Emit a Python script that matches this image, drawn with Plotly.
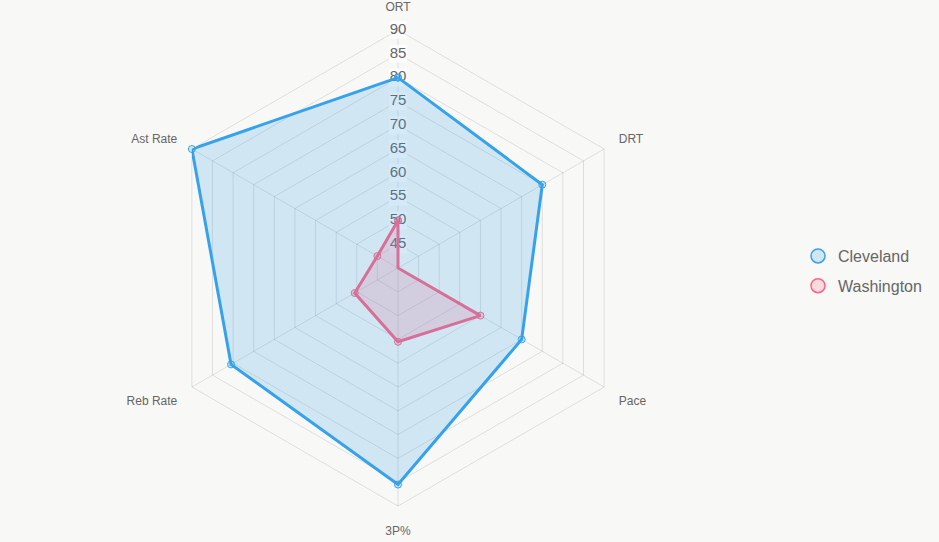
import plotly.graph_objects as go

categories = ["ORT", "DRT", "Pace", "3P%", "Reb Rate", "Ast Rate"]
cleveland = [80, 75, 70, 85.5, 80.5, 90]
washington = [50, 40, 60, 55.5, 50.5, 45]
tick_values = [45, 50, 55, 60, 65, 70, 75, 80, 85, 90]
tick_labels = [str(v) for v in tick_values]

BG = "#f8f8f6"
BLUE = "rgb(54,162,235)"
BLUE_F = "rgba(54,162,235,0.2)"
RED = "rgb(255,99,132)"
RED_F = "rgba(255,99,132,0.2)"
FONT = "Liberation Sans, Arial, sans-serif"

def closed(v):
    return v + v[:1]

fig = go.Figure()

# radial tick labels with backdrop, centred on the ORT spoke (under the data)
fig.add_trace(go.Scatterpolar(
    r=tick_values, theta=["ORT"] * len(tick_values), mode="markers+text",
    text=tick_labels, textposition="middle center",
    textfont=dict(family=FONT, size=15, color="#666666"),
    marker=dict(symbol="square", size=18, color="rgba(255,255,255,0.75)"),
    hoverinfo="skip", showlegend=False, cliponaxis=False))

# Washington drawn first (under Cleveland), as in the reference
fig.add_trace(go.Scatterpolar(
    r=closed(washington), theta=closed(categories), mode="lines+markers",
    fill="toself", fillcolor=RED_F,
    line=dict(color=RED, width=3),
    marker=dict(size=7, color=RED_F, line=dict(color=RED, width=1)),
    showlegend=False, name="Washington"))
fig.add_trace(go.Scatterpolar(
    r=closed(cleveland), theta=closed(categories), mode="lines+markers",
    fill="toself", fillcolor=BLUE_F,
    line=dict(color=BLUE, width=3),
    marker=dict(size=7, color=BLUE_F, line=dict(color=BLUE, width=1)),
    showlegend=False, name="Cleveland"))

# legend entries
for name, col, fc in [("Cleveland", BLUE, BLUE_F), ("Washington", RED, RED_F)]:
    fig.add_trace(go.Scatterpolar(
        r=[None], theta=[categories[0]], mode="markers", name=name, legendgroup=name,
        marker=dict(symbol="circle", size=14, color=fc, line=dict(color=col, width=1.5))))

cx, cy, R = 398, 268, 238
W, H = 939, 542
fig.update_layout(
    width=W, height=H, autosize=False,
    margin=dict(l=0, r=0, t=0, b=0),
    paper_bgcolor=BG, plot_bgcolor=BG,
    font=dict(family=FONT, color="#666666"),
    polar=dict(
        domain=dict(x=[(cx - R) / W, (cx + R) / W], y=[(H - cy - R) / H, (H - cy + R) / H]),
        bgcolor="rgba(0,0,0,0)",
        gridshape="linear",
        radialaxis=dict(range=[40, 90], tickvals=tick_values, showticklabels=False,
                        ticks="", showline=False, gridcolor="rgba(0,0,0,0.1)", gridwidth=1),
        angularaxis=dict(direction="clockwise", rotation=90, categoryorder="array",
                         categoryarray=categories,
                         tickfont=dict(family=FONT, size=12, color="#666666"),
                         ticks="outside", ticklen=14, tickcolor="rgba(0,0,0,0)",
                         showline=True, linecolor="rgba(0,0,0,0.1)",
                         gridcolor="rgba(0,0,0,0.1)"),
    ),
    legend=dict(x=798 / W, y=0.5, xanchor="left", yanchor="middle",
                font=dict(family=FONT, size=16, color="#666666"),
                bgcolor="rgba(0,0,0,0)", itemwidth=30,
                traceorder="grouped", tracegroupgap=6),
)

fig.write_html("out.html")
